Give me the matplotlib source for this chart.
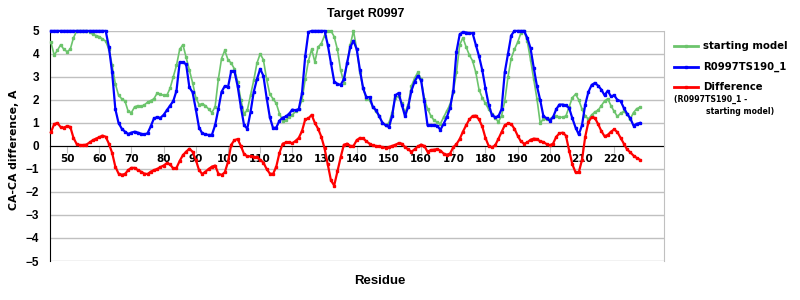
import matplotlib
matplotlib.use("Agg")
from matplotlib import pyplot as plt
from matplotlib.lines import Line2D

# Residue numbers and CA-CA differences
residues = list(range(45, 229))

starting_model = [
    4.5, 3.95, 4.15, 4.4, 4.2,                                  # 45
    4.1, 4.2, 4.7, 5.0, 5.0, 5.0, 5.0, 4.95, 4.85, 4.8,         # 50
    4.75, 4.65, 4.55, 4.2, 3.5, 2.7, 2.2, 2.05, 1.95, 1.5,      # 60
    1.45, 1.7, 1.75, 1.72, 1.78, 1.9, 1.97, 2.05, 2.3, 2.25,    # 70
    2.2, 2.2, 2.5, 3.0, 3.5, 4.2, 4.4, 3.85, 3.3, 2.75,         # 80
    2.1, 1.8, 1.83, 1.75, 1.6, 1.45, 1.7, 2.9, 3.8, 4.15,       # 90
    3.75, 3.6, 3.35, 2.8, 2.0, 1.4, 1.55, 2.2, 2.85, 3.6,       # 100
    4.0, 3.75, 2.9, 2.25, 2.05, 1.85, 1.4, 1.1, 1.12, 1.25,     # 110
    1.35, 1.5, 1.62, 2.0, 2.9, 3.7, 4.2, 3.65, 4.3, 4.45,       # 120
    4.8, 5.0, 5.0, 4.75, 4.2, 3.3, 2.75, 3.6, 4.4, 5.0,         # 130
    4.2, 3.2, 2.5, 2.05, 1.98, 1.7, 1.5, 1.28, 1.0, 0.9,        # 140
    1.0, 1.45, 2.1, 2.15, 1.85, 1.45, 1.8, 2.6, 2.95, 3.2,      # 150
    2.9, 2.05, 1.62, 1.32, 1.12, 1.03, 0.96, 1.25, 1.52, 1.8,   # 160
    2.35, 3.2, 4.4, 4.7, 4.3, 3.95, 3.7, 3.2, 2.45, 2.1,        # 170
    1.85, 1.6, 1.38, 1.22, 1.05, 1.3, 1.95, 3.0, 3.8, 4.2,      # 180
    4.5, 4.9, 5.0, 4.55, 3.75, 2.9, 2.05, 1.0, 1.17, 1.15,      # 190
    1.18, 1.25, 1.3, 1.25, 1.25, 1.3, 1.7, 2.1, 2.25, 2.0,      # 200
    1.6, 1.3, 1.17, 1.35, 1.48, 1.55, 1.75, 1.95, 2.05, 1.75,   # 210
    1.5, 1.28, 1.42, 1.5, 1.38, 1.17, 1.45, 1.62, 1.68,         # 220
]

model_190 = [
    5.0, 5.0, 5.0, 5.0, 5.0,                                    # 45
    5.0, 5.0, 5.0, 5.0, 5.0, 5.0, 5.0, 5.0, 5.0, 5.0,           # 50
    5.0, 5.0, 5.0, 4.3, 3.2, 1.6, 1.0, 0.75, 0.62, 0.52,        # 60
    0.58, 0.62, 0.58, 0.53, 0.5, 0.55, 0.85, 1.2, 1.25, 1.22,   # 70
    1.35, 1.55, 1.75, 1.95, 2.4, 3.64, 3.64, 3.55, 2.55, 2.33,  # 80
    1.6, 0.8, 0.55, 0.5, 0.48, 0.48, 0.9, 1.6, 2.35, 2.6,       # 90
    2.55, 3.25, 3.25, 2.6, 1.7, 0.9, 0.75, 1.46, 2.35, 2.9,     # 100
    3.35, 3.05, 2.1, 1.25, 0.78, 0.8, 1.1, 1.23, 1.28, 1.4,     # 110
    1.58, 1.55, 1.6, 2.3, 3.9, 4.95, 5.0, 5.0, 5.0, 5.0,        # 120
    5.0, 4.4, 3.6, 2.8, 2.7, 2.65, 2.9, 3.6, 4.3, 4.57,         # 130
    4.2, 3.3, 2.5, 2.12, 2.12, 1.7, 1.55, 1.3, 1.0, 0.9,        # 140
    0.82, 1.3, 2.2, 2.3, 1.8, 1.3, 1.7, 2.4, 2.8, 3.05,         # 150
    2.85, 1.95, 0.9, 0.91, 0.9, 0.88, 0.7, 0.96, 1.25, 1.65,    # 160
    2.4, 4.1, 4.85, 4.95, 4.93, 4.9, 4.9, 4.4, 3.9, 3.3,        # 170
    2.5, 1.8, 1.35, 1.25, 1.28, 1.6, 3.2, 4.0, 4.8, 5.0,        # 180
    5.0, 5.0, 5.0, 4.7, 4.25, 3.4, 2.6, 2.0, 1.3, 1.2,          # 190
    1.1, 1.25, 1.6, 1.8, 1.8, 1.76, 1.65, 1.2, 0.8, 0.5,        # 200
    0.9, 1.8, 2.35, 2.65, 2.74, 2.62, 2.45, 2.2, 2.4, 2.15,     # 210
    2.2, 2.0, 1.95, 1.65, 1.4, 1.2, 0.88, 0.96, 1.0,            # 220
]

difference = [
    0.6, 0.95, 1.0, 0.82, 0.8,                                  # 45
    0.86, 0.83, 0.35, 0.08, 0.04, 0.04, 0.06, 0.15, 0.25, 0.32, # 50
    0.38, 0.45, 0.4, 0.1, -0.3, -0.9, -1.2, -1.25, -1.22, -1.05,  # 60
    -0.95, -0.95, -1.05, -1.12, -1.2, -1.22, -1.12, -1.05, -1.0, -0.92,  # 70
    -0.85, -0.75, -0.8, -0.98, -0.95, -0.65, -0.4, -0.25, -0.12, -0.25,  # 80
    -0.6, -1.05, -1.22, -1.12, -1.0, -0.9, -0.85, -1.2, -1.26, -1.15,    # 90
    -0.7, 0.05, 0.25, 0.3, 0.0, -0.35, -0.45, -0.45, -0.47, -0.5,       # 100
    -0.6, -0.72, -1.0, -1.2, -1.22, -0.9, -0.3, 0.1, 0.15, 0.15,        # 110
    0.12, 0.22, 0.35, 0.65, 1.15, 1.2, 1.35, 1.0, 0.75, 0.4,            # 120
    -0.1, -0.8, -1.5, -1.72, -1.1, -0.5, 0.05, 0.1, 0.0, 0.0,           # 130
    0.25, 0.35, 0.33, 0.2, 0.1, 0.02, 0.0, -0.02, -0.05, -0.08,         # 140
    -0.05, 0.0, 0.05, 0.12, 0.1, -0.05, -0.15, -0.25, -0.15, -0.02,     # 150
    0.06, 0.0, -0.25, -0.18, -0.16, -0.14, -0.2, -0.33, -0.38, -0.33,   # 160
    -0.06, 0.08, 0.3, 0.62, 0.9, 1.15, 1.3, 1.32, 1.15, 0.85,           # 170
    0.35, 0.0, -0.06, 0.02, 0.3, 0.6, 0.9, 0.98, 0.95, 0.75,            # 180
    0.45, 0.2, 0.1, 0.15, 0.27, 0.32, 0.3, 0.2, 0.17, 0.08,             # 190
    0.03, 0.1, 0.4, 0.55, 0.58, 0.45, -0.2, -0.8, -1.15, -1.15,         # 200
    -0.6, 0.4, 1.05, 1.25, 1.22, 0.95, 0.65, 0.42, 0.48, 0.62,          # 210
    0.72, 0.6, 0.35, 0.1, -0.15, -0.28, -0.42, -0.52, -0.6,             # 220
]

x_ticks = list(range(50, 230, 10))
y_ticks = list(range(-5, 6))

GREEN = "#6cc46c"
BLUE = "#0000ff"
RED = "#ff0000"


def main():
    fig = plt.figure(figsize=(8, 3), dpi=100)
    ax = fig.add_axes([0.0625, 0.13, 0.768, 0.767])

    series = [
        (starting_model, GREEN, 1.2),
        (model_190, BLUE, 1.6),
        (difference, RED, 1.6),
    ]
    for values, color, lw in series:
        ax.plot(residues, values, color=color, lw=lw, marker="s", markersize=1.6,
                clip_on=False, zorder=3)

    ax.set_xlim(44.7, 235.6)
    ax.set_ylim(-5, 5)

    # Gridlines at every integer, gray frame
    ax.set_yticks(y_ticks)
    ax.yaxis.grid(True, color="#c0c0c0", lw=1)
    ax.set_axisbelow(True)
    ax.spines["top"].set_visible(False)
    ax.spines["right"].set_color("#c0c0c0")
    ax.spines["left"].set_color("black")
    ax.spines["bottom"].set_position(("data", 0))
    ax.spines["bottom"].set_color("black")
    ax.spines["bottom"].set_zorder(2)

    ax.set_xticks(x_ticks)
    ax.tick_params(axis="x", length=5, color="#c0c0c0", pad=1)
    ax.tick_params(axis="y", length=0, pad=8)
    for lbl in ax.get_xticklabels():
        lbl.set_fontfamily("DejaVu Sans")
        lbl.set_fontweight("bold")
        lbl.set_fontsize(7.5)
    for lbl in ax.get_yticklabels():
        lbl.set_fontfamily("Liberation Sans")
        lbl.set_fontweight("bold")
        lbl.set_fontsize(8.5)

    fig.text(0.457, 0.955, "Target R0997", ha="center", va="center",
             family="Liberation Sans", weight="bold", fontsize=9)
    fig.text(0.475, 0.063, "Residue", ha="center", va="center",
             family="Liberation Sans", weight="bold", fontsize=9.5)
    fig.text(0.017, 0.50, "CA-CA difference, A", ha="center", va="center",
             rotation=90, family="DejaVu Sans", weight="bold", fontsize=7.8)

    # Legend drawn by hand to the right of the plot
    entries = [
        (GREEN, "starting model", 0.847),
        (BLUE, "R0997TS190_1", 0.777),
        (RED, "Difference", 0.71),
    ]
    for color, text, y in entries:
        fig.add_artist(Line2D([0.843, 0.872], [y, y], color=color, lw=2,
                              transform=fig.transFigure))
        fig.add_artist(Line2D([0.8575], [y], color=color, marker="s", markersize=1.6,
                              transform=fig.transFigure))
        fig.text(0.879, y, text, ha="left", va="center",
                 family="DejaVu Sans", weight="bold", fontsize=7.3)
    fig.text(0.843, 0.667, "(R0997TS190_1 -", ha="left", va="center",
             family="DejaVu Sans", weight="bold", fontsize=5.6)
    fig.text(0.883, 0.627, "starting model)", ha="left", va="center",
             family="DejaVu Sans", weight="bold", fontsize=5.6)

    fig.savefig("out.png", dpi=100)


if __name__ == "__main__":
    main()
